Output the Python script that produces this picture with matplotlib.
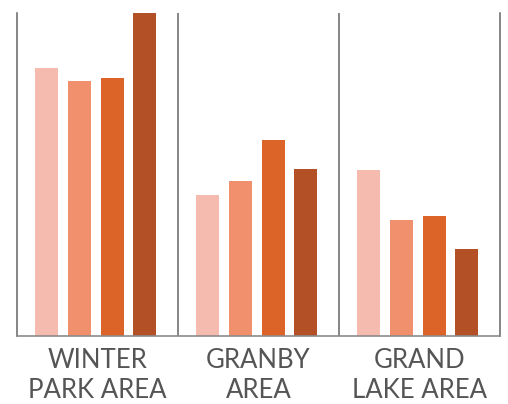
import matplotlib.pyplot as plt
import numpy as np

# areas and the four series shown in each
areas = ['WINTER\nPARK AREA', 'GRANBY\nAREA', 'GRAND\nLAKE AREA']
series_a = [83.0, 43.6, 51.4]
series_b = [78.9, 47.9, 35.9]
series_c = [79.8, 60.6, 37.1]
series_d = [100.0, 51.7, 26.8]

colors = ['#F5BBAE', '#F0906D', '#DC6428', '#B35025']


def main():
    fig = plt.figure(figsize=(5.08, 4.04), dpi=100)
    ax = fig.add_axes([17 / 508, 68 / 404, 483 / 508, 323 / 404])

    x = np.arange(len(areas))
    pitch = 0.203
    width = 0.143
    for k, (vals, c) in enumerate(zip([series_a, series_b, series_c, series_d], colors)):
        ax.bar(x + (k - 1.5) * pitch - 0.01, vals, width=width, color=c,
               edgecolor='none', zorder=2)

    ax.set_xlim(-0.5, len(areas) - 0.5)
    ax.set_ylim(0, 100)

    for sep in x[:-1] + 0.5:
        ax.axvline(sep, color='#666666', lw=1.1, zorder=1)

    for side in ['left', 'right']:
        ax.spines[side].set_color('#666666')
        ax.spines[side].set_linewidth(1.1)
    ax.spines['bottom'].set_color('#8c8c8c')
    ax.spines['bottom'].set_linewidth(1.2)
    ax.spines['top'].set_visible(False)

    ax.set_yticks([])
    ax.set_xticks(x)
    ax.set_xticklabels(areas, fontsize=18.5, color='#555555', family='Lato',
                       linespacing=1.25)
    ax.tick_params(axis='x', length=0, pad=9)

    fig.savefig('out.png', dpi=100)


if __name__ == "__main__":
    main()
